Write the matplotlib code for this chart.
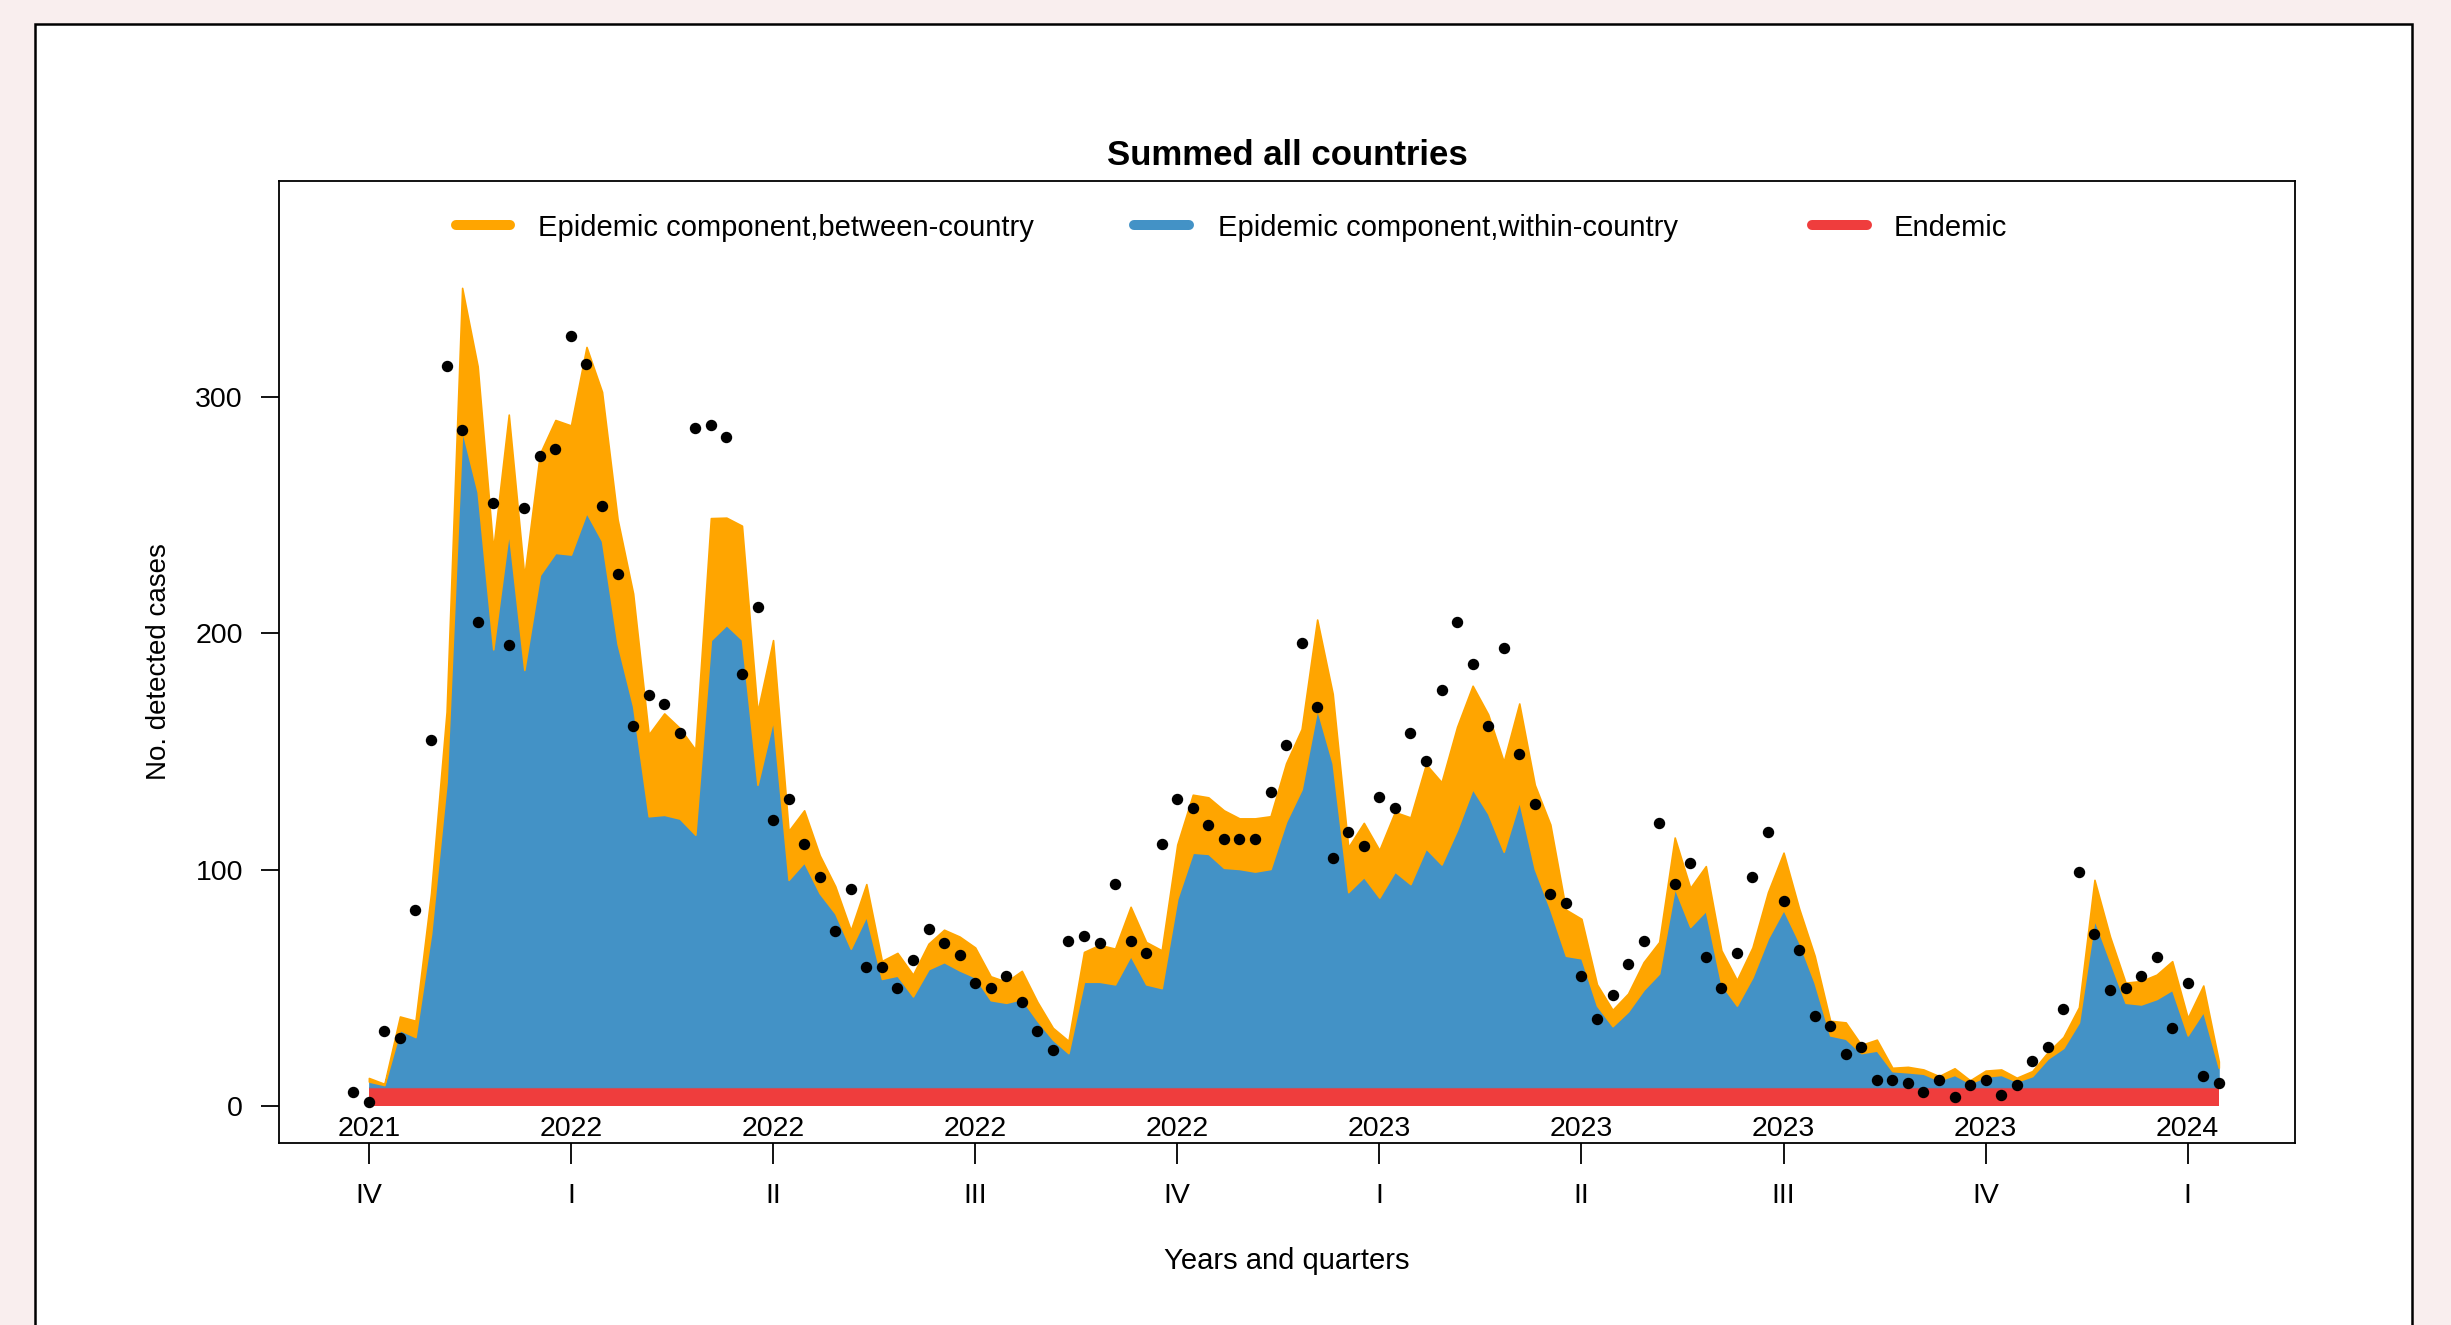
import matplotlib
matplotlib.use('Agg')
import matplotlib.pyplot as plt
import numpy as np
from matplotlib.patches import Rectangle
from matplotlib.transforms import blended_transform_factory

plt.rcParams['font.family'] = ['Liberation Sans', 'DejaVu Sans']

# ---------------- data ----------------
# weeks relative to the first quarter tick (2021 IV)
week_obs = np.arange(-1, 120)
week_fit = np.arange(0, 120)

observed = [6, 2, 32, 29, 83, 155, 313, 286, 205, 255, 195, 253, 275, 278, 326, 314,
            254, 225, 161, 174, 170, 158, 287, 288, 283, 183, 211, 121, 130, 111, 97,
            74, 92, 59, 59, 50, 62, 75, 69, 64, 52, 50, 55, 44, 32, 24, 70, 72, 69,
            94, 70, 65, 111, 130, 126, 119, 113, 113, 113, 133, 153, 196, 169, 105,
            116, 110, 131, 126, 158, 146, 176, 205, 187, 161, 194, 149, 128, 90, 86,
            55, 37, 47, 60, 70, 120, 94, 103, 63, 50, 65, 97, 116, 87, 66, 38, 34,
            22, 25, 11, 11, 10, 6, 11, 4, 9, 11, 5, 9, 19, 25, 41, 99, 73, 49, 50,
            55, 63, 33, 52, 13, 10]

endemic = [8.0] * 120

within = [2.5, 1.0, 24.3, 21.3, 64.9, 129.1, 278.2, 251.8, 185.3, 235.0, 176.6, 216.7,
          226.1, 225.4, 243.1, 231.1, 187.6, 161.2, 114.7, 115.3, 113.7, 106.9, 189.2,
          195.6, 189.4, 128.0, 155.5, 87.8, 95.2, 82.1, 73.6, 58.7, 72.5, 45.9, 47.3,
          38.5, 50.0, 53.0, 49.5, 46.6, 36.9, 35.8, 37.4, 28.2, 20.2, 14.5, 44.7, 44.7,
          43.6, 55.7, 43.6, 42.0, 79.8, 99.3, 98.8, 92.9, 92.4, 91.3, 92.4, 112.4,
          126.1, 160.1, 137.1, 82.6, 89.0, 80.3, 91.3, 86.0, 101.1, 94.3, 108.9, 126.3,
          115.8, 99.7, 121.1, 92.4, 75.2, 55.7, 54.6, 34.6, 25.9, 32.1, 41.3, 48.2,
          84.4, 67.9, 74.8, 43.6, 34.6, 46.6, 63.1, 75.2, 61.5, 44.3, 22.0, 20.6, 14.5,
          15.6, 6.9, 6.4, 5.8, 3.0, 5.3, 1.8, 4.6, 5.3, 2.5, 4.8, 12.2, 16.7, 27.5,
          71.1, 53.4, 35.8, 35.1, 37.4, 41.3, 22.0, 32.1, 8.3]

between = [1.5, 0.5, 5.7, 6.9, 17.2, 29.8, 60.0, 53.2, 42.4, 49.6, 39.6, 51.3, 56.2,
           54.6, 70.1, 63.1, 52.7, 47.7, 34.6, 42.9, 38.3, 36.0, 51.6, 45.4, 48.2, 30.9,
           33.7, 20.7, 22.0, 16.1, 11.5, 7.8, 13.5, 7.6, 9.6, 9.2, 10.8, 13.7, 14.3,
           12.6, 10.1, 8.9, 11.9, 8.0, 5.0, 5.2, 12.6, 15.6, 15.1, 20.7, 17.9, 16.0,
           22.9, 24.5, 23.9, 24.3, 21.4, 22.5, 22.3, 24.7, 25.5, 37.8, 29.4, 19.0, 22.9,
           20.1, 25.2, 28.2, 35.6, 34.8, 43.6, 43.6, 42.0, 38.1, 41.3, 35.6, 36.0, 19.5,
           16.7, 9.0, 6.9, 7.6, 11.7, 13.3, 21.3, 16.5, 18.8, 14.4, 10.8, 12.6, 19.5,
           24.1, 14.2, 11.4, 6.2, 6.9, 3.5, 4.6, 1.4, 2.3, 1.8, 1.8, 2.8, 1.2, 2.5, 2.3,
           1.6, 2.1, 2.7, 4.6, 6.4, 16.7, 10.4, 8.5, 9.9, 10.3, 12.1, 7.4, 11.0, 2.7]

quarter_pos = [0, 13, 26, 39, 52, 65, 78, 91, 104, 117]
year_labels = ['2021', '2022', '2022', '2022', '2022', '2023', '2023', '2023', '2023', '2024']
quarter_labels = ['IV', 'I', 'II', 'III', 'IV', 'I', 'II', 'III', 'IV', 'I']

legend_labels = ['Epidemic component,between-country',
                 'Epidemic component,within-country',
                 'Endemic']

col_red = '#EF3D3D'
col_blue = '#4392C6'
col_orange = '#FFA500'

# ---------------- figure ----------------
W, H = 2451, 1325
fig = plt.figure(figsize=(W / 100, H / 100), dpi=100)
fig.patch.set_facecolor('#f9eeee')

frame = Rectangle((34.7 / W, -0.05), (2412 - 34.7) / W, 0.05 + 1 - 24.3 / H,
                  transform=fig.transFigure, facecolor='white', edgecolor='black',
                  linewidth=1.8, zorder=-5)
fig.add_artist(frame)

ax_l, ax_r, ax_t, ax_b = 279, 2295, 181, 1142.5
ax = fig.add_axes([ax_l / W, 1 - ax_b / H, (ax_r - ax_l) / W, (ax_b - ax_t) / H])
ax.set_zorder(5)
ax.set_facecolor('white')

polys = ax.stackplot(week_fit, endemic, within, between,
                     colors=[col_red, col_blue, col_orange], linewidth=0)
polys[2].set_edgecolor(col_orange)
polys[2].set_linewidth(1.2)
polys[1].set_edgecolor(col_blue)
polys[1].set_linewidth(0.5)

ax.plot(week_obs, observed, 'o', color='black', markersize=7.2, zorder=5)

ax.set_xlim(-5.78, 123.9)
ax.set_ylim(-15.3, 391.4)

for sp in ax.spines.values():
    sp.set_linewidth(1.3)
    sp.set_color('black')

ax.set_yticks([0, 100, 200, 300])
ax.set_yticklabels(['0', '100', '200', '300'])
ax.tick_params(axis='y', direction='out', length=13, width=1.3, pad=13, labelsize=20.5)

ax.set_xticks(quarter_pos)
ax.set_xticklabels([''] * len(quarter_pos))
ax.tick_params(axis='x', direction='out', length=15, width=1.3, pad=0)

tr = blended_transform_factory(ax.transData, ax.transAxes)
ah = ax_b - ax_t
for p, yl, ql in zip(quarter_pos, year_labels, quarter_labels):
    ax.text(p, (ax_b - 1136.5) / ah, yl, transform=tr, ha='center', va='baseline',
            fontsize=20.5)
    ax.text(p, (ax_b - 1203.4) / ah, ql, transform=tr, ha='center', va='baseline',
            fontsize=20.5, clip_on=False)

ax.text(0.5, (ax_b - 1269) / ah, 'Years and quarters', transform=ax.transAxes,
        ha='center', va='baseline', fontsize=21)
ax.text((158.5 - ax_l) / (ax_r - ax_l), 0.5, 'No. detected cases', transform=ax.transAxes,
        ha='center', va='center', rotation=90, fontsize=20)
ax.text(0.5, (ax_b - 165) / ah, 'Summed all countries', transform=ax.transAxes,
        ha='center', va='baseline', fontsize=25, fontweight='bold')

# legend (drawn by hand, R style, no frame)
aw = ax_r - ax_l
leg_y_line = (ax_b - 225) / ah
leg_y_text = (ax_b - 236) / ah
leg_items = [(col_orange, 456, 510, 538),
             (col_blue, 1134, 1189, 1217.7),
             (col_red, 1812, 1867, 1894)]
for (c, x0, x1, xt), lab in zip(leg_items, legend_labels):
    ax.plot([(x0 - ax_l) / aw, (x1 - ax_l) / aw], [leg_y_line, leg_y_line],
            transform=ax.transAxes, color=c, linewidth=7.2, solid_capstyle='round',
            clip_on=False)
    ax.text((xt - ax_l) / aw, leg_y_text, lab, transform=ax.transAxes,
            ha='left', va='baseline', fontsize=21)

fig.savefig('out.png', dpi=100, facecolor=fig.get_facecolor())
